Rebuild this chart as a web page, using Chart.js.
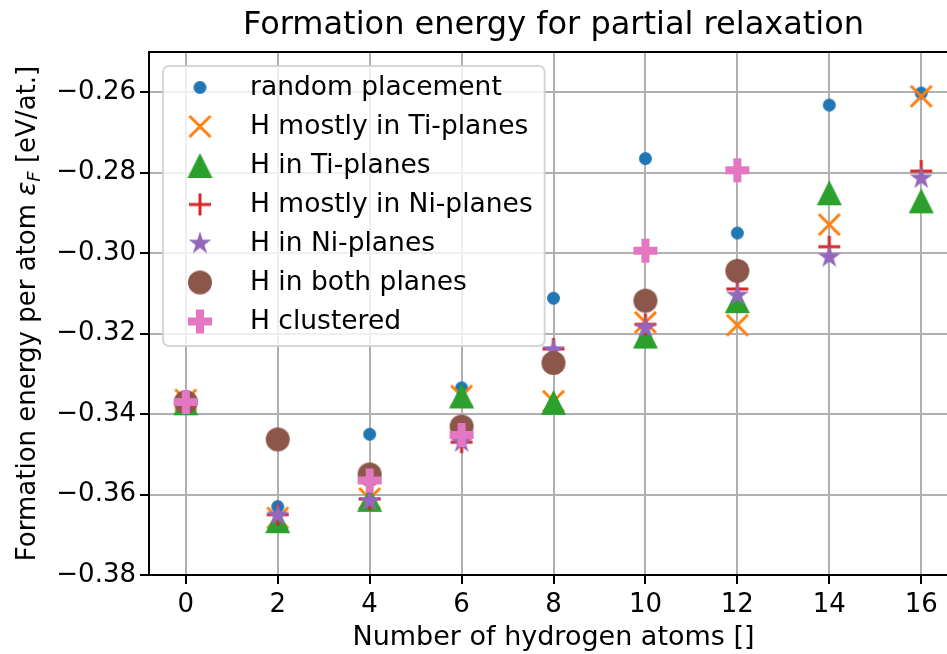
<!DOCTYPE html>
<html>
<head>
<meta charset="utf-8">
<title>Formation energy for partial relaxation</title>
<script src="https://cdn.jsdelivr.net/npm/chart.js@4/dist/chart.umd.min.js"></script>
<style>
  html, body { margin: 0; padding: 0; background: #fff; overflow: hidden; width: 947px; height: 654px; }
  #wrap { position: absolute; left: 0; top: 0; width: 1000px; height: 654px; }
  canvas { display: block; }
</style>
</head>
<body>
<div id="wrap"><canvas id="chart" width="1000" height="654"></canvas></div>
<script>
// Number of hydrogen atoms in the cell
const hydrogenAtoms = [0, 2, 4, 6, 8, 10, 12, 14, 16];

// Formation energy per atom [eV/at.] for each placement scheme (null = not computed)
const randomPlacement    = [-0.3370, -0.3630, -0.3450, -0.3335, -0.3112, -0.2765, -0.2950, -0.2632, -0.2602];
const mostlyTiPlanes     = [-0.3365, -0.3658, -0.3610, -0.3355, -0.3368, -0.3172, -0.3179, -0.2929, -0.2610];
const inTiPlanes         = [-0.3372, -0.3665, -0.3612, -0.3355, -0.3371, -0.3206, -0.3118, -0.2850, -0.2870];
const mostlyNiPlanes     = [-0.3370, -0.3650, -0.3611, -0.3470, -0.3238, -0.3177, -0.3089, -0.2984, -0.2796];
const inNiPlanes         = [-0.3370, -0.3652, -0.3616, -0.3470, -0.3241, -0.3186, -0.3105, -0.3010, -0.2814];
const inBothPlanes       = [-0.3370, -0.3463, -0.3550, -0.3431, -0.3273, -0.3118, -0.3044, null, null];
const clustered          = [-0.3370, null, -0.3565, -0.3452, null, -0.2994, -0.2794, null, null];

const seriesLabels = [
  'random placement',
  'H mostly in Ti-planes',
  'H in Ti-planes',
  'H mostly in Ni-planes',
  'H in Ni-planes',
  'H in both planes',
  'H clustered'
];

// Axis tick values
const xTickValues = [0, 2, 4, 6, 8, 10, 12, 14, 16];
const yTickValues = [-0.38, -0.36, -0.34, -0.32, -0.30, -0.28, -0.26];

const FONT = '"DejaVu Sans", "Liberation Sans", sans-serif';

// Matplotlib-like marker glyphs rendered onto small canvases
function markerCanvas(shape, color, size) {
  const pad = 4;
  const dim = Math.ceil(size + pad * 2);
  const c = document.createElement('canvas');
  c.width = dim; c.height = dim;
  const g = c.getContext('2d');
  g.translate(dim / 2, dim / 2);
  g.fillStyle = color;
  g.strokeStyle = color;
  const h = size / 2;
  g.beginPath();
  if (shape === 'circle') {
    g.arc(0, 0, h, 0, Math.PI * 2);
    g.fill();
  } else if (shape === 'x') {
    g.lineWidth = 3;
    g.moveTo(-h, -h); g.lineTo(h, h);
    g.moveTo(-h, h); g.lineTo(h, -h);
    g.stroke();
  } else if (shape === 'plus') {
    g.lineWidth = 3;
    g.moveTo(-h, 0); g.lineTo(h, 0);
    g.moveTo(0, -h); g.lineTo(0, h);
    g.stroke();
  } else if (shape === 'triangle') {
    g.moveTo(0, -h); g.lineTo(h, h); g.lineTo(-h, h);
    g.closePath();
    g.fill();
  } else if (shape === 'star') {
    const inner = h * 0.381966;
    for (let i = 0; i < 10; i++) {
      const r = i % 2 === 0 ? h : inner;
      const ang = -Math.PI / 2 + i * Math.PI / 5;
      const px = r * Math.cos(ang), py = r * Math.sin(ang);
      if (i === 0) g.moveTo(px, py); else g.lineTo(px, py);
    }
    g.closePath();
    g.fill();
  } else if (shape === 'plusFilled') {
    const t = size / 6;
    const pts = [[-t,-h],[t,-h],[t,-t],[h,-t],[h,t],[t,t],[t,h],[-t,h],[-t,t],[-h,t],[-h,-t],[-t,-t]];
    pts.forEach((p, i) => i ? g.lineTo(p[0], p[1]) : g.moveTo(p[0], p[1]));
    g.closePath();
    g.fill();
  }
  return c;
}

function toPoints(values) {
  const pts = [];
  values.forEach((v, i) => { if (v !== null) pts.push({ x: hydrogenAtoms[i], y: v }); });
  return pts;
}

const seriesValues = [randomPlacement, mostlyTiPlanes, inTiPlanes, mostlyNiPlanes, inNiPlanes, inBothPlanes, clustered];
const seriesColors = ['#1f77b4', '#ff7f0e', '#2ca02c', '#d62728', '#9467bd', '#8c564b', '#e377c2'];
const seriesShapes = ['circle', 'x', 'triangle', 'plus', 'star', 'circle', 'plusFilled'];
const seriesSizes  = [13, 21, 25, 22, 24, 24, 24];

const datasets = seriesValues.map((vals, i) => {
  const glyph = markerCanvas(seriesShapes[i], seriesColors[i], seriesSizes[i]);
  return {
    label: seriesLabels[i],
    data: toPoints(vals),
    pointStyle: glyph,
    backgroundColor: seriesColors[i],
    borderColor: seriesColors[i],
    showLine: false,
    // later series are painted on top
    order: seriesValues.length - i
  };
});

// Full rectangular axes frame
const framePlugin = {
  id: 'frame',
  beforeDatasetsDraw(chart) {
    const { ctx, chartArea: a } = chart;
    ctx.save();
    ctx.strokeStyle = '#000';
    ctx.lineWidth = 2;
    ctx.strokeRect(a.left, a.top, a.right - a.left, a.bottom - a.top);
    ctx.restore();
  }
};

// Legend box in the upper-left corner of the plot area
const legendBoxPlugin = {
  id: 'legendBox',
  afterDatasetsDraw(chart) {
    const { ctx, chartArea: a } = chart;
    const sets = chart.data.datasets;
    const left = a.left + 14, top = a.top + 14;
    const markerX = left + 37, textX = left + 87;
    const rowH = 39, firstRow = top + 21.5;
    ctx.save();
    ctx.font = '26.5px ' + FONT;
    let maxW = 0;
    sets.forEach(ds => { maxW = Math.max(maxW, ctx.measureText(ds.label).width); });
    const w = (textX - left) + maxW + 12;
    const h = 21.5 + rowH * (sets.length - 1) + 24.5;
    const r = 6;
    ctx.beginPath();
    ctx.moveTo(left + r, top);
    ctx.arcTo(left + w, top, left + w, top + h, r);
    ctx.arcTo(left + w, top + h, left, top + h, r);
    ctx.arcTo(left, top + h, left, top, r);
    ctx.arcTo(left, top, left + w, top, r);
    ctx.closePath();
    ctx.fillStyle = 'rgba(255,255,255,0.8)';
    ctx.fill();
    ctx.strokeStyle = 'rgba(204,204,204,0.8)';
    ctx.lineWidth = 2;
    ctx.stroke();
    ctx.fillStyle = '#000';
    ctx.textAlign = 'left';
    ctx.textBaseline = 'middle';
    sets.forEach((ds, i) => {
      const y = firstRow + i * rowH;
      const img = ds.pointStyle;
      ctx.drawImage(img, markerX - img.width / 2, y - img.height / 2);
      ctx.fillText(ds.label, textX, y + 1);
    });
    ctx.restore();
  }
};

// Rotated y-axis title with an italic epsilon and subscript F
const yTitlePlugin = {
  id: 'yTitle',
  afterDraw(chart) {
    const { ctx, chartArea: a } = chart;
    const parts = [
      { t: 'Formation energy per atom ', font: '26px ' + FONT, dy: 0 },
      { t: '\u03b5', font: 'italic 26px ' + FONT, dy: 0 },
      { t: 'F', font: 'italic 18px ' + FONT, dy: 5 },
      { t: ' [eV/at.]', font: '26px ' + FONT, dy: 0 }
    ];
    ctx.save();
    let total = 0;
    parts.forEach(p => { ctx.font = p.font; p.w = ctx.measureText(p.t).width; total += p.w; });
    ctx.translate(35, (a.top + a.bottom) / 2);
    ctx.rotate(-Math.PI / 2);
    ctx.fillStyle = '#000';
    ctx.textAlign = 'left';
    ctx.textBaseline = 'alphabetic';
    let x = -total / 2;
    parts.forEach(p => { ctx.font = p.font; ctx.fillText(p.t, x, p.dy); x += p.w; });
    ctx.restore();
  }
};

const minusFmt = v => (v < 0 ? '\u2212' : '') + Math.abs(v).toFixed(2);

new Chart(document.getElementById('chart'), {
  type: 'scatter',
  data: { datasets },
  options: {
    responsive: false,
    animation: false,
    devicePixelRatio: 1,
    events: [],
    layout: { padding: { left: 0, right: 42, top: 0, bottom: 0 } },
    plugins: {
      legend: { display: false },
      tooltip: { enabled: false },
      title: {
        display: true,
        fullSize: false,
        text: 'Formation energy for partial relaxation',
        color: '#000',
        font: { family: FONT, size: 32, weight: 'normal', lineHeight: 1.2 },
        padding: { top: 6.5, bottom: 7.1 }
      }
    },
    scales: {
      x: {
        type: 'linear',
        bounds: 'data',
        min: -0.8,
        max: 16.8,
        afterBuildTicks: s => { s.ticks = xTickValues.map(v => ({ value: v })); },
        afterFit: s => { s.height = 79; },
        ticks: {
          color: '#000',
          font: { family: FONT, size: 26 },
          padding: 6,
          maxRotation: 0,
          autoSkip: false,
          callback: v => String(v)
        },
        grid: { color: '#b0b0b0', lineWidth: 2, tickColor: '#000', tickLength: 9, tickWidth: 2 },
        border: { display: false },
        title: {
          display: true,
          text: 'Number of hydrogen atoms []',
          color: '#000',
          font: { family: FONT, size: 27, lineHeight: 1.0 },
          padding: { top: 0, bottom: 2.5 }
        }
      },
      y: {
        type: 'linear',
        bounds: 'data',
        min: -0.38,
        max: -0.25,
        afterBuildTicks: s => { s.ticks = yTickValues.map(v => ({ value: v })); },
        afterFit: s => { s.width = 149; },
        ticks: {
          color: '#000',
          font: { family: FONT, size: 26 },
          padding: 4,
          autoSkip: false,
          callback: v => minusFmt(v)
        },
        grid: { color: '#b0b0b0', lineWidth: 2, tickColor: '#000', tickLength: 9, tickWidth: 2 },
        border: { display: false },
        title: { display: false }
      }
    }
  },
  plugins: [framePlugin, legendBoxPlugin, yTitlePlugin]
});
</script>
</body>
</html>
